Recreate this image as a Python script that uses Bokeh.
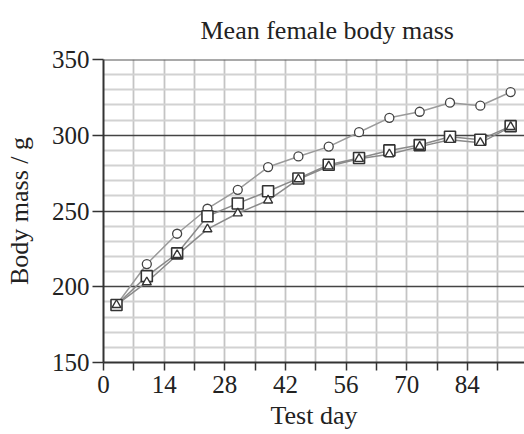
from bokeh.plotting import figure
from bokeh.models import Range1d, FixedTicker, Span
from bokeh.embed import file_html
from bokeh.resources import INLINE

days = [3, 10, 17, 24, 31, 38, 45, 52, 59, 66, 73, 80, 87, 94]
circle_mass = [188, 215, 235, 251.5, 264, 279, 286, 292.5, 302, 311.5, 315.5, 321.5, 319.5, 328.5]
square_mass = [188, 207, 222, 246.5, 255, 263, 271.5, 280.5, 285, 290, 293.5, 299, 297, 306]
triangle_mass = [188, 203, 221, 238, 248.5, 257, 271, 279.5, 284.5, 287.5, 292.5, 297, 295, 305.5]

x_ticks = list(range(0, 98, 7))
x_labels = {t: (str(t) if t % 14 == 0 else "") for t in x_ticks}
y_ticks = [150, 200, 250, 300, 350]
y_major_grid = [200, 250, 300]
y_minor_grid = [v for v in range(160, 350, 10) if v % 50 != 0]

FONT = "Liberation Serif"

p = figure(width=524, height=434, frame_width=421, frame_height=303,
           min_border_left=103, min_border_right=0, min_border_top=59, min_border_bottom=72,
           x_range=Range1d(0, 97.2), y_range=Range1d(150, 350),
           output_backend="svg", toolbar_location=None,
           title="Mean female body mass")
p.outline_line_color = None
p.background_fill_color = "white"
p.border_fill_color = "white"

p.title.text_font = FONT
p.title.text_font_size = "26px"
p.title.text_font_style = "normal"
p.title.text_color = "#222222"
p.title.align = "left"
p.title.offset = 97
p.title.vertical_align = "top"
p.title.standoff = 26

# grids
p.xgrid.ticker = FixedTicker(ticks=x_ticks)
p.xgrid.grid_line_color = "#c4c4c4"
p.xgrid.grid_line_width = 1.8
p.ygrid.ticker = FixedTicker(ticks=y_major_grid, minor_ticks=y_minor_grid)
p.ygrid.grid_line_color = "#444444"
p.ygrid.grid_line_width = 1.6
p.ygrid.minor_grid_line_color = "#d2d2d2"
p.ygrid.minor_grid_line_width = 1.8

top_line = Span(location=350, dimension="width", line_color="#555555", line_width=2)
p.add_layout(top_line)

# axes
for ax in (p.xaxis[0], p.yaxis[0]):
    ax.axis_line_color = "#333333"
    ax.axis_line_width = 2
    ax.major_tick_line_color = "#333333"
    ax.major_tick_line_width = 1.5
    ax.major_tick_in = 0
    ax.minor_tick_line_color = None
    ax.major_label_text_font = FONT
    ax.major_label_text_font_size = "25px"
    ax.major_label_text_color = "#222222"
    ax.axis_label_text_font = FONT
    ax.axis_label_text_font_size = "26px"
    ax.axis_label_text_font_style = "normal"
    ax.axis_label_text_color = "#222222"

p.xaxis.ticker = FixedTicker(ticks=x_ticks)
p.xaxis.major_label_overrides = x_labels
p.xaxis.major_tick_out = 8
p.xaxis.major_label_standoff = 5
p.xaxis.axis_label = "Test day"
p.xaxis.axis_label_standoff = 5

p.yaxis.ticker = FixedTicker(ticks=y_ticks)
p.yaxis.major_tick_out = 11
p.yaxis.major_label_standoff = 3
p.yaxis.axis_label = "Body mass / g"
p.yaxis.axis_label_standoff = 15

# series
p.line(days, circle_mass, line_color="#9a9a9a", line_width=1.5)
p.line(days, triangle_mass, line_color="#8a8a8a", line_width=1.5)
p.line(days, square_mass, line_color="#8a8a8a", line_width=1.5)
p.scatter(days, circle_mass, marker="circle", size=9, fill_color="white",
          line_color="#444444", line_width=1.3)
p.scatter(days, square_mass, marker="square", size=11, fill_color="white",
          line_color="#333333", line_width=1.6)
p.scatter(days, triangle_mass, marker="triangle", size=9, fill_color="white",
          line_color="#333333", line_width=1.4)

open("out.html", "w").write(file_html(p, INLINE))
